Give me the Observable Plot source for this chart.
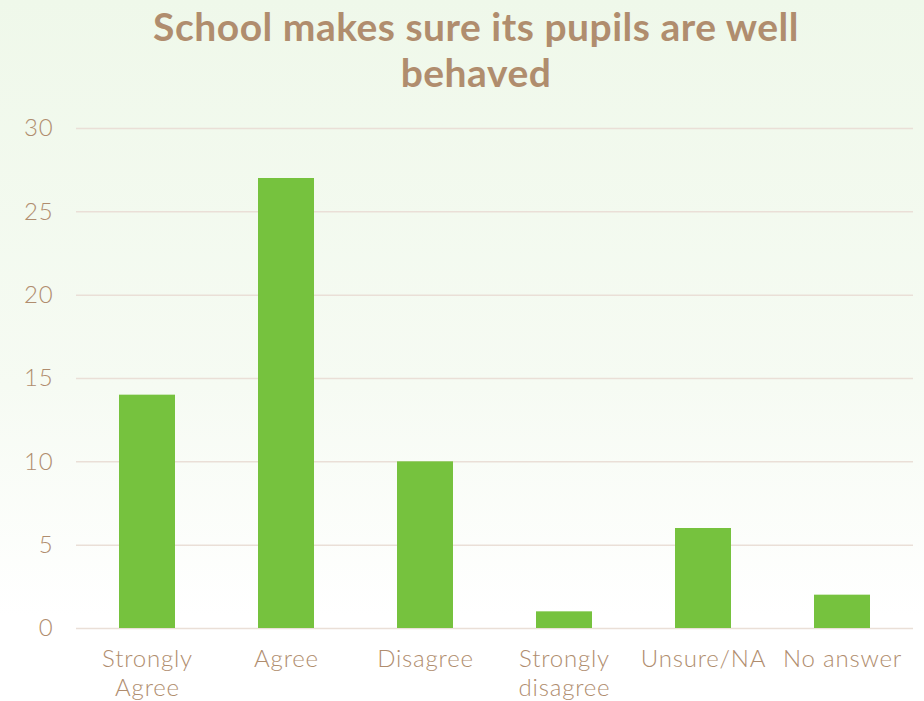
<!DOCTYPE html>
<html>
<head>
<meta charset="utf-8">
<script src="https://cdn.jsdelivr.net/npm/d3@7"></script>
<script src="https://cdn.jsdelivr.net/npm/@observablehq/plot@0.6"></script>
<style>
  html, body { margin: 0; padding: 0; }
  body {
    width: 924px; height: 701px; overflow: hidden;
    background: linear-gradient(to bottom, #eff8ea 0%, #f6fbf3 55%, #ffffff 88%);
    font-family: Lato, "Open Sans", sans-serif;
  }
  #title {
    height: 110px; box-sizing: border-box; padding-top: 3px;
    text-align: center; color: #b08d6e; font-weight: bold;
    font-size: 39px; line-height: 46px; padding-left: 28px; letter-spacing: 0.5px;
  }
  #chart svg { display: block; background: transparent; }
</style>
</head>
<body>
<div id="title">School makes sure its pupils are well<br>behaved</div>
<div id="chart"></div>
<script>
const categories = ["Strongly\nAgree", "Agree", "Disagree", "Strongly\ndisagree", "Unsure/NA", "No answer"];
const counts = [14, 27, 10, 1, 6, 2];
const yTicks = [0, 5, 10, 15, 20, 25, 30];

const data = categories.map((c, i) => ({category: c, count: counts[i]}));
const textColor = "#b08d6e";

const chart = Plot.plot({
  width: 924,
  height: 591,
  marginTop: 18,
  marginBottom: 73,
  marginLeft: 76,
  marginRight: 11,
  style: {background: "transparent", fontFamily: "Lato, 'Open Sans', sans-serif", fontSize: "24px", fontWeight: 300, color: textColor, letterSpacing: "0.8px"},
  x: {domain: categories, paddingInner: 0.6, paddingOuter: 0.3, label: null},
  y: {domain: [0, 30], label: null},
  marks: [
    Plot.gridY(yTicks, {stroke: "#eadfd7", strokeOpacity: 1, strokeWidth: 1.5}),
    Plot.barY(data, {x: "category", y: "count", fill: "#76c23e"}),
    Plot.axisY(yTicks, {tickSize: 0, tickPadding: 23, fill: textColor, fontSize: 24, label: null}),
    Plot.axisX({tickSize: 0, tickPadding: 19, fill: textColor, fontSize: 24, lineHeight: 1.17, label: null})
  ]
});
document.getElementById("chart").appendChild(chart);
</script>
</body>
</html>
